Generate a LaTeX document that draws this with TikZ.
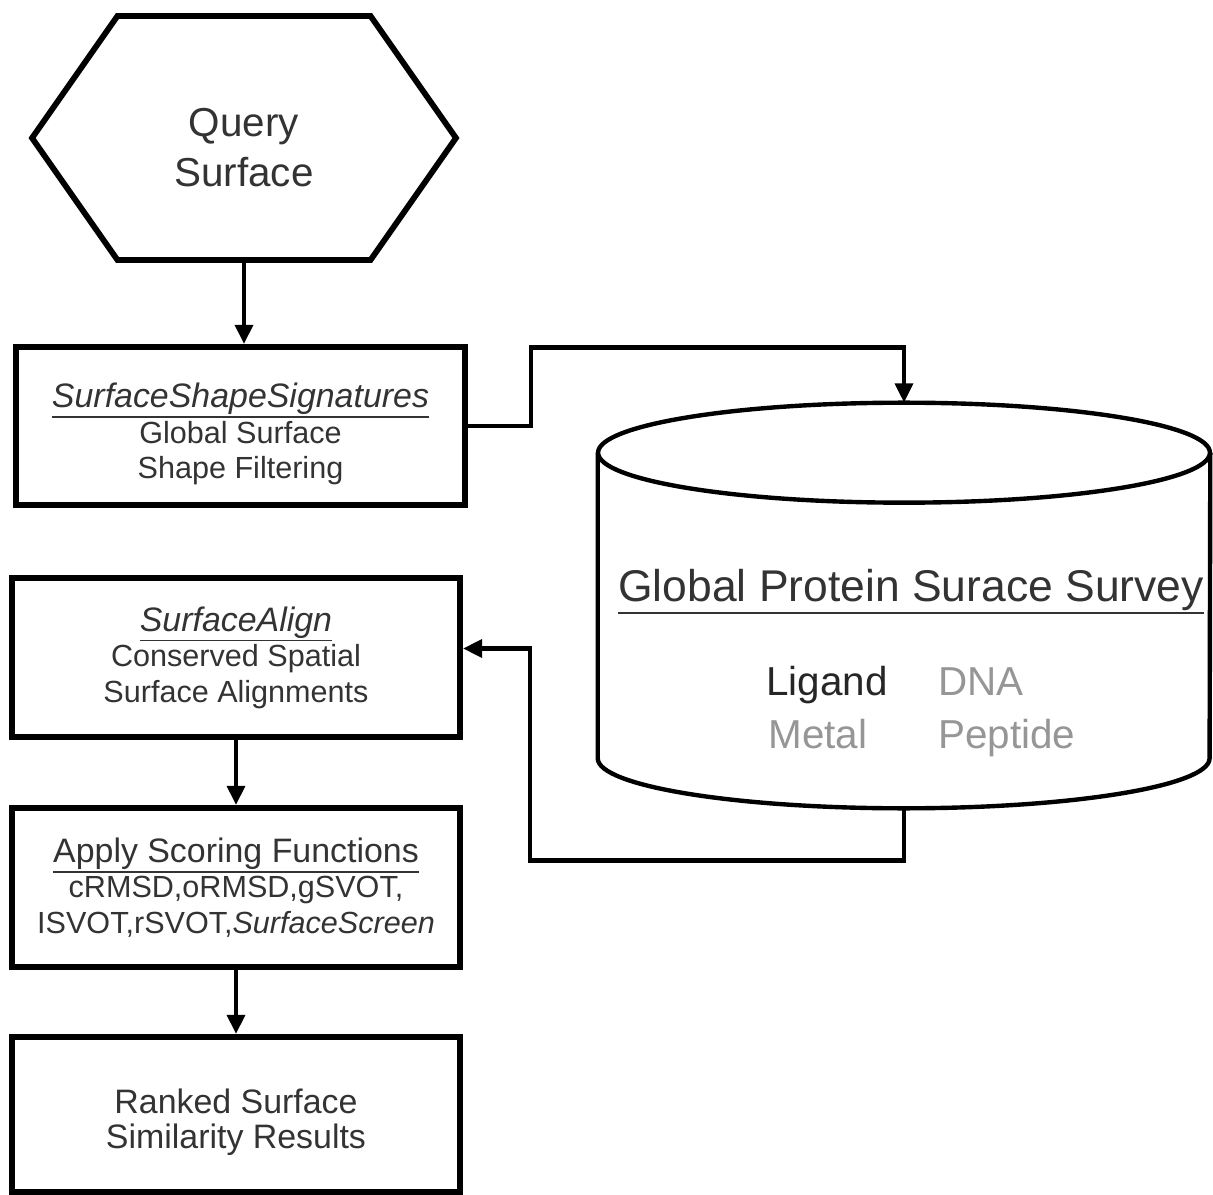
\documentclass[tikz,border=0pt]{standalone}
\usepackage{fontspec}
\setmainfont{Liberation Sans}
\usetikzlibrary{positioning,arrows.meta,shapes.symbols,calc}
\definecolor{InkGray}{RGB}{51,51,51}
\definecolor{FadedGray}{RGB}{150,150,150}
% underline with a heavier rule
\newcommand{\ulined}[1]{\leavevmode\vtop{\hbox{#1}\kern0.8pt\hrule height 1.1pt}}
% extra room above the first line
\newcommand{\topgap}[1]{\rule{0pt}{#1}}

\begin{document}
\begin{tikzpicture}[x=0.02cm,y=-0.02cm,
  every node/.style={align=center,text=InkGray},
  stepbox/.style={draw=black,line width=3.3pt,minimum width=8.96cm,minimum height=3.18cm,inner sep=0pt,font=\fontsize{17.4}{20.2}\selectfont},
  flow/.style={-{Triangle[length=11pt,width=10pt]},line width=2.6pt},
  dbitem/.style={anchor=base west,inner sep=0pt,font=\fontsize{23}{28}\selectfont}]
  \useasboundingbox (0,0) rectangle (1213,1195);
  % left column
  \node[draw=black,line width=3.3pt,signal,signal to=east and west,signal pointer angle=110,minimum width=8.48cm,minimum height=4.88cm,inner sep=0pt,font=\fontsize{23}{29}\selectfont] (query) at (244,138) {\topgap{27pt}Query\\Surface};
  \node[stepbox,minimum width=8.98cm,minimum height=3.16cm] (sss) at (240.5,426) {{\fontsize{19.3}{22}\selectfont\topgap{23pt}\ulined{\textit{SurfaceShapeSignatures}}}\\Global Surface\\Shape Filtering};
  \node[stepbox] (align) at (236,657.5) {{\fontsize{19.3}{22}\selectfont\ulined{\textit{SurfaceAlign}}}\\Conserved Spatial\\Surface Alignments};
  \node[stepbox] (score) at (236,887.5) {{\fontsize{19.3}{22}\selectfont\ulined{Apply Scoring Functions}}\\cRMSD,oRMSD,gSVOT,\\ISVOT,rSVOT,\textit{SurfaceScreen}};
  \node[stepbox,minimum height=3.1cm,font=\fontsize{19.3}{20}\selectfont] (ranked) at (236,1114.5) {\topgap{23pt}Ranked Surface\\Similarity Results};
  % database
  \node[minimum width=12.24cm,minimum height=8.1cm,inner sep=0pt] (survey) at (904,605.5) {};
  \draw[line width=2.5pt] ([yshift=-1cm]survey.north) ellipse [x radius=6.12cm,y radius=1cm];
  \draw[line width=2.5pt] ([yshift=-1cm]survey.north west) -- ([yshift=1cm]survey.south west)
    arc[start angle=180,end angle=360,x radius=6.12cm,y radius=1cm] -- ([yshift=-1cm]survey.north east);
  \node[font=\fontsize{25.3}{30}\selectfont] (surveytitle) at (911,592) {\ulined{Global Protein Surace Survey}};
  \node[dbitem,text=black!85] (ligand) at (766,695) {Ligand};
  \node[dbitem,text=FadedGray] (dna) at (938,695) {DNA};
  \node[dbitem,text=FadedGray] (metal) at (768,748) {Metal};
  \node[dbitem,text=FadedGray] (peptide) at (938,748) {Peptide};
  % connectors
  \draw[flow] (query.south) -- (query.south |- sss.north);
  \draw[flow] (sss.east) -- ++(63,0) |- ($(survey.north)+(0,-55)$) -- (survey.north);
  \draw[flow] (survey.south) -- ++(0,52) -| ($(align.east)+(67,-9)$) -- ($(align.east)+(0,-9)$);
  \draw[flow] (align.south) -- (score.north);
  \draw[flow] (score.south) -- (ranked.north);
\end{tikzpicture}
\end{document}
